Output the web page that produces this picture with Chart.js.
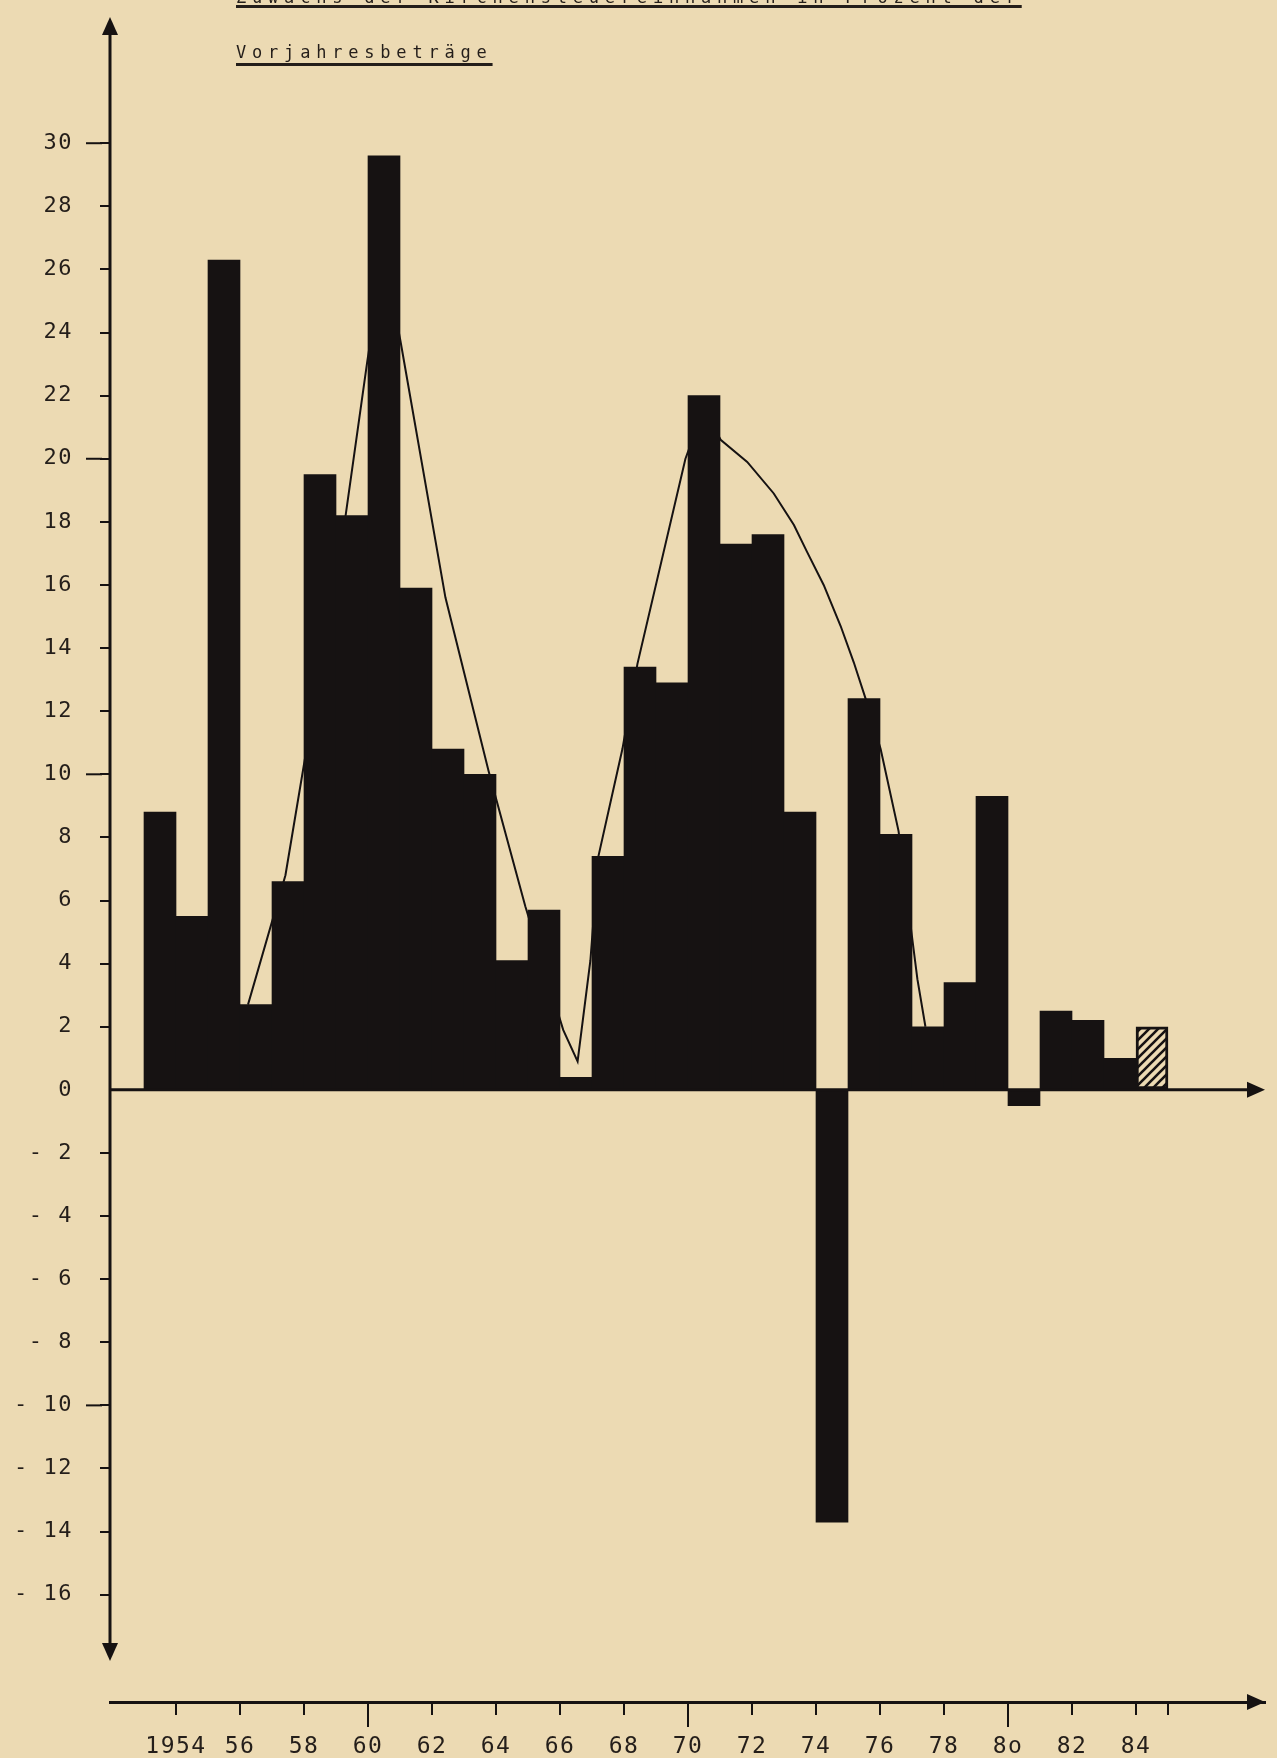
<!DOCTYPE html>
<html>
<head>
<meta charset="utf-8">
<script src="https://cdn.jsdelivr.net/npm/chart.js@4.4.1/dist/chart.umd.min.js"></script>
<style>
  html, body { margin: 0; padding: 0; background: #ecdab3; }
  #wrap { position: relative; width: 1277px; height: 1758px; overflow: hidden; }
  #chart { position: absolute; left: 0; top: 0; }
  .title { position: absolute; left: 236px; font-family: 'DejaVu Sans Mono', monospace; font-size: 17px; line-height: 20px;
           letter-spacing: 5.8px; color: #241e1a; white-space: nowrap;
           text-decoration: underline; text-decoration-thickness: 3px; }
  #t1 { top: -13px; text-underline-offset: 2px; }
  #t2 { top: 42px; text-underline-offset: 5px; }
</style>
</head>
<body>
<div id="wrap">
  <canvas id="chart" width="1277" height="1758"></canvas>
  <div class="title" id="t1">Zuwachs der Kirchensteuereinnahmen in Prozent der</div>
  <div class="title" id="t2">Vorjahresbeträge</div>
</div>
<script>
// ── Data ──
const years = [1954, 1955, 1956, 1957, 1958, 1959, 1960, 1961, 1962, 1963, 1964, 1965, 1966, 1967, 1968, 1969,
               1970, 1971, 1972, 1973, 1974, 1975, 1976, 1977, 1978, 1979, 1980, 1981, 1982, 1983, 1984, 1985];
const growth = [8.8, 5.5, 26.3, 2.7, 6.6, 19.5, 18.2, 29.6, 15.9, 10.8, 10.0, 4.1, 5.7, 0.4, 7.4, 13.4,
                12.9, 22.0, 17.3, 17.6, 8.8, -13.7, 12.4, 8.1, 2.0, 3.4, 9.3, -0.5, 2.5, 2.2, 1.0, 2.0];
const estimateYear = 1985; // hatched bar

// hand-drawn trend line
const trendYears = [1956.75, 1957.92, 1959.8, 1960.48, 1961.0, 1961.52, 1962.92, 1964.27, 1965.42, 1966.6, 1967.05,
                    1967.45, 1967.7, 1968.45, 1968.92, 1970.42, 1971.0, 1971.52, 1972.35, 1973.18, 1973.81, 1974.22,
                    1974.74, 1975.27, 1975.68, 1976.05, 1976.52, 1977.08, 1977.67, 1977.92];
const trendValues = [2.7, 6.8, 18.2, 23.1, 26.5, 23.7, 15.6, 10.1, 5.8, 1.9, 0.9,
                     4.1, 7.4, 10.8, 13.5, 20.0, 21.6, 20.6, 19.9, 18.9, 17.9, 17.05,
                     16.0, 14.7, 13.55, 12.4, 10.8, 8.2, 3.5, 2.0];

const yTickValues = [30, 28, 26, 24, 22, 20, 18, 16, 14, 12, 10, 8, 6, 4, 2, 0, -2, -4, -6, -8, -10, -12, -14, -16];
const yLongTicks = [30, 20, 10, -10];
const xTickYears = [1954, 1956, 1958, 1960, 1962, 1964, 1966, 1968, 1970, 1972, 1974, 1976, 1978, 1980, 1982, 1984, 1985];
const xTickLabels = ['1954', '56', '58', '60', '62', '64', '66', '68', '70', '72', '74', '76', '78', '8o', '82', '84', ''];
const xLongTicks = [1960, 1970, 1980];

const yMin = -19.4, yMax = 34, yAxisEnd = -18.1;
const xMin = 1952.4375, xMax = 1988.53125;

const ink = '#161212';
const paper = '#ecdab3';
const textInk = '#241e1a';
const mono = "'DejaVu Sans Mono', monospace";

function hatchPattern() {
  const c = document.createElement('canvas'); c.width = 9; c.height = 9;
  const g = c.getContext('2d');
  g.fillStyle = paper; g.fillRect(0, 0, 9, 9);
  g.strokeStyle = ink; g.lineWidth = 2.6;
  g.beginPath();
  g.moveTo(-2, 11); g.lineTo(11, -2);
  g.moveTo(-2, 2); g.lineTo(2, -2);
  g.moveTo(7, 11); g.lineTo(11, 7);
  g.stroke();
  return g.createPattern(c, 'repeat');
}

function arrow(ctx, tx, ty, dx, dy) {
  const len = 18, half = 8;
  const bx = tx - dx * len, by = ty - dy * len;
  ctx.beginPath();
  ctx.moveTo(tx, ty);
  ctx.lineTo(bx - dy * half, by + dx * half);
  ctx.lineTo(bx + dy * half, by - dx * half);
  ctx.closePath(); ctx.fill();
}

// axes with arrows, zero line, long ticks
const axesArt = {
  id: 'axesArt',
  beforeDraw(chart) { chart.ctx.letterSpacing = '1.5px'; },
  afterDatasetsDraw(chart) {
    const { ctx, chartArea: a, scales: { x, y } } = chart;
    const y0 = y.getPixelForValue(0);
    const yEnd = y.getPixelForValue(yAxisEnd);
    ctx.save();
    ctx.strokeStyle = ink; ctx.fillStyle = ink; ctx.lineWidth = 3;
    ctx.beginPath(); ctx.moveTo(a.left, a.top + 6); ctx.lineTo(a.left, yEnd - 6); ctx.stroke();
    arrow(ctx, a.left, a.top, 0, -1);
    arrow(ctx, a.left, yEnd, 0, 1);
    ctx.beginPath(); ctx.moveTo(a.left, y0); ctx.lineTo(a.right - 6, y0); ctx.stroke();
    arrow(ctx, a.right, y0, 1, 0);
    arrow(ctx, a.right, a.bottom, 1, 0);
    ctx.lineWidth = 2;
    yLongTicks.forEach(v => {
      const p = y.getPixelForValue(v);
      ctx.beginPath(); ctx.moveTo(a.left - 24, p); ctx.lineTo(a.left - 8, p); ctx.stroke();
    });
    xLongTicks.forEach(yr => {
      const p = x.getPixelForValue(yr + 0.5);
      ctx.beginPath(); ctx.moveTo(p, a.bottom + 10); ctx.lineTo(p, a.bottom + 25); ctx.stroke();
    });
    ctx.restore();
  }
};

const hatch = hatchPattern();
const barFill = years.map(yr => yr === estimateYear ? hatch : ink);
const barBorder = years.map(yr => yr === estimateYear ? 3 : 0);

new Chart(document.getElementById('chart'), {
  type: 'bar',
  data: {
    datasets: [{
      type: 'line',
      data: trendYears.map((t, i) => ({ x: t, y: trendValues[i] })),
      borderColor: ink, borderWidth: 2, pointRadius: 0, tension: 0, fill: false, order: 2,
    }, {
      type: 'bar',
      data: years.map((yr, i) => ({ x: yr, y: growth[i] })),
      backgroundColor: barFill, borderColor: ink, borderWidth: barBorder, borderSkipped: false,
      barPercentage: 1, categoryPercentage: 1, order: 1,
    }]
  },
  options: {
    responsive: false, animation: false, events: [],
    layout: { padding: { top: 17, right: 12, left: 0, bottom: 0 } },
    plugins: { legend: { display: false }, tooltip: { enabled: false } },
    scales: {
      x: {
        type: 'linear', min: xMin, max: xMax, offset: false,
        grid: { offset: false, drawOnChartArea: false, color: ink, lineWidth: 2, tickLength: 13, tickWidth: 2, tickColor: ink },
        border: { display: true, color: ink, width: 3 },
        afterBuildTicks: s => { s.ticks = xTickYears.map(yr => ({ value: yr + 0.5 })); },
        afterFit: s => { s.height = 56; s.paddingLeft = 0; s.paddingRight = 0; },
        ticks: {
          autoSkip: false, maxRotation: 0, padding: 18, color: textInk,
          font: { family: mono, size: 23 },
          callback: (v, i) => xTickLabels[i]
        }
      },
      y: {
        type: 'linear', min: yMin, max: yMax,
        grid: { drawOnChartArea: false, lineWidth: 2, tickLength: 10, tickWidth: 2,
                tickColor: c => (c.tick && c.tick.value === 0) ? 'rgba(0,0,0,0)' : ink },
        border: { display: false },
        afterBuildTicks: s => { s.ticks = yTickValues.map(v => ({ value: v })); },
        afterFit: s => { s.width = 110; s.paddingTop = 0; s.paddingBottom = 0; },
        ticks: {
          padding: 27, color: textInk,
          font: { family: mono, size: 22 },
          callback: v => v < 0 ? '- ' + (-v) : String(v)
        }
      }
    }
  },
  plugins: [axesArt]
});
</script>
</body>
</html>
